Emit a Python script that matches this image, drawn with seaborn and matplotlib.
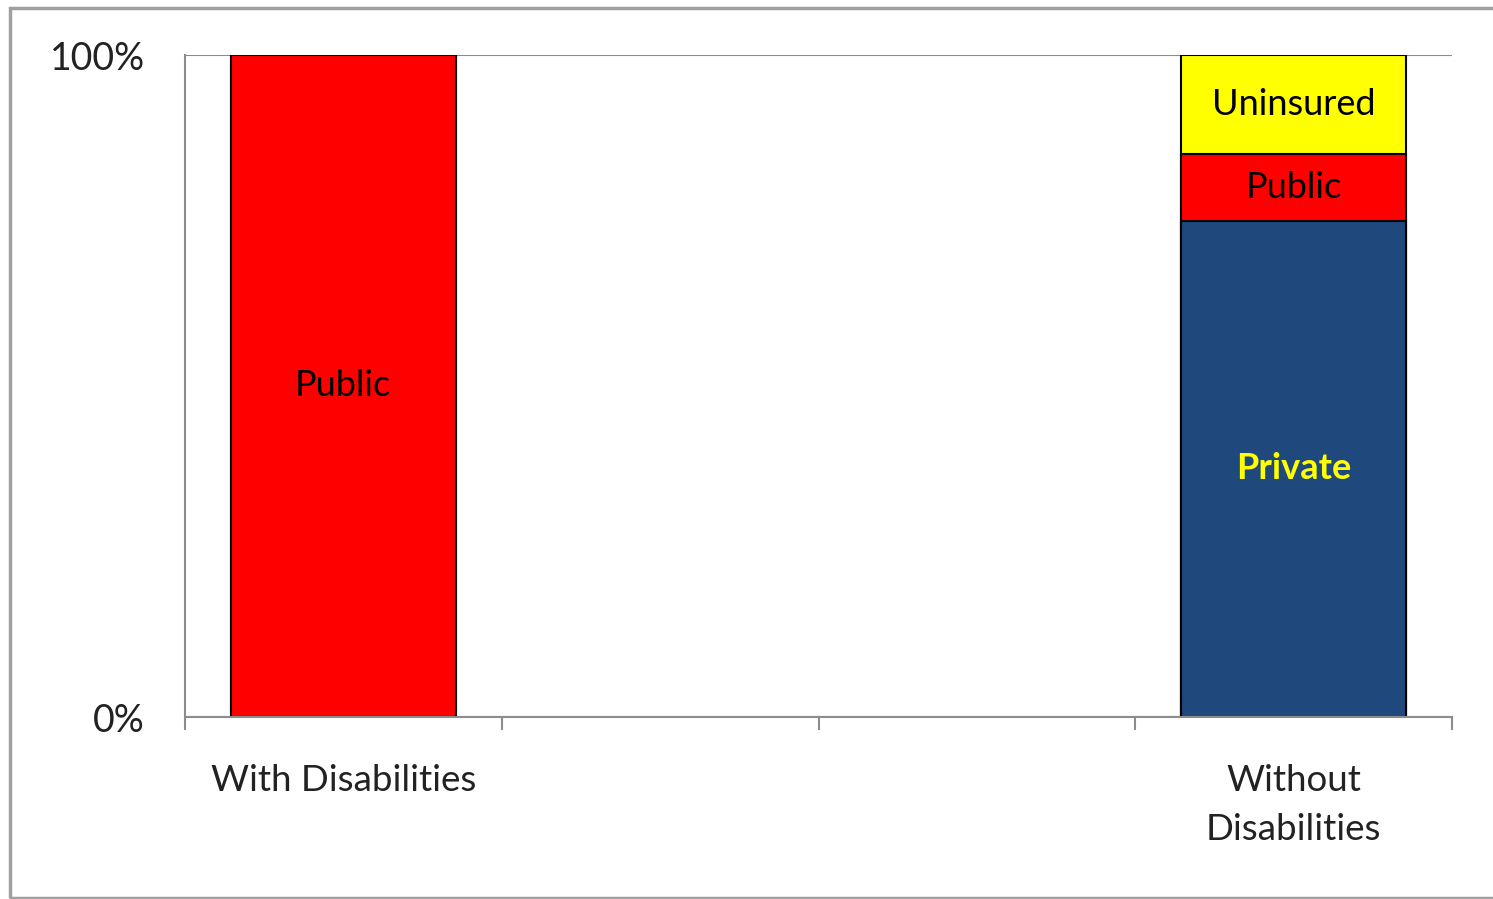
import matplotlib
matplotlib.use("Agg")
import matplotlib.pyplot as plt
import matplotlib.patches as mpatches
from matplotlib.ticker import FixedLocator, NullFormatter
import pandas as pd
import seaborn as sns

# ── data ───────────────────────────────────────────────────────
groups = ["With Disabilities", "Without\nDisabilities"]
slots = ["With Disabilities", "gap1", "gap2", "Without\nDisabilities"]
private = [0, 75]
public = [100, 10]
uninsured = [0, 15]

colors = {"Private": "#1F497D", "Public": "#FF0000", "Uninsured": "#FFFF00"}
text_colors = {"Private": "#FFFF00", "Public": "#000000", "Uninsured": "#000000"}
text_weights = {"Private": "bold", "Public": "normal", "Uninsured": "normal"}

sns.set_style("white")
plt.rcParams["font.family"] = ["Lato", "DejaVu Sans"]

df = pd.DataFrame({"group": groups, "Private": private,
                   "Public": public, "Uninsured": uninsured})
df["top_public"] = df["Private"] + df["Public"]
df["top_uninsured"] = df["top_public"] + df["Uninsured"]

fig = plt.figure(figsize=(14.93, 8.99), dpi=100)
ax = fig.add_axes([185 / 1493, 1 - 717 / 899, (1452 - 185) / 1493, (717 - 55) / 899])

# stacked bars drawn tallest first
for col, seg in [("top_uninsured", "Uninsured"), ("top_public", "Public"), ("Private", "Private")]:
    sns.barplot(data=df, x="group", y=col, order=slots, color=colors[seg],
                saturation=1, width=0.71, edgecolor="black", linewidth=1.5, ax=ax)

# segment labels
for i, g in enumerate(groups):
    pos = slots.index(g)
    bottom = 0
    for seg in ["Private", "Public", "Uninsured"]:
        v = df.loc[i, seg]
        if v > 0:
            ax.text(pos, bottom + v / 2, seg, ha="center", va="center",
                    fontsize=26, color=text_colors[seg], fontweight=text_weights[seg])
        bottom += v

ax.set_xlim(-0.5, 3.5)
ax.set_ylim(0, 100)
ax.set_xlabel("")
ax.set_ylabel("")

# y axis
ax.set_yticks([0, 100])
ax.set_yticklabels(["0%", "100%"], fontsize=27)
ax.tick_params(axis="y", length=9, width=1.5, color="#8C8C8C", pad=20, labelcolor="#222222")
ax.yaxis.grid(True, color="#8C8C8C", linewidth=1.5)
ax.set_axisbelow(True)

# x axis: ticks between slots, labels at bar centres
ax.xaxis.set_major_locator(FixedLocator([-0.5, 0.5, 1.5, 2.5, 3.5]))
ax.xaxis.set_major_formatter(NullFormatter())
ax.xaxis.set_minor_locator(FixedLocator([slots.index(g) for g in groups]))
ax.set_xticklabels(groups, minor=True, fontsize=26.5, color="#222222", linespacing=1.6)
ax.tick_params(axis="x", which="major", length=9, width=1.5, color="#8C8C8C", bottom=True)
ax.tick_params(axis="x", which="minor", length=0, pad=34)

for s in ["top", "right"]:
    ax.spines[s].set_visible(False)
for s in ["left", "bottom"]:
    ax.spines[s].set_color("#8C8C8C")
    ax.spines[s].set_linewidth(1.5)

# outer frame
fig.patches.append(mpatches.Rectangle((10 / 1493, 1 / 899), 1.2, 890 / 899,
                                      transform=fig.transFigure, fill=False,
                                      edgecolor="#A0A0A0", linewidth=2.5))

fig.savefig("out.png", dpi=100)
